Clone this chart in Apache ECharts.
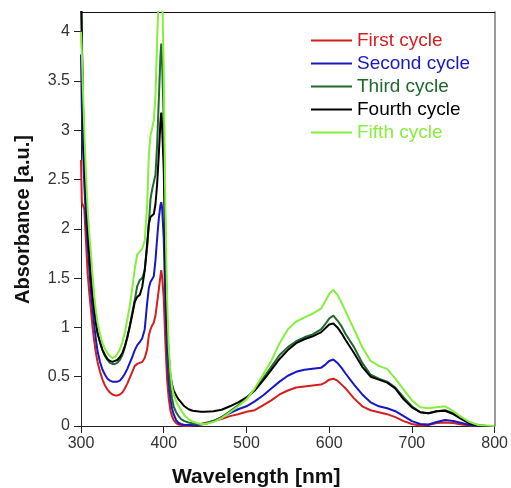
<!DOCTYPE html>
<html>
<head>
<meta charset="utf-8">
<script src="https://cdn.jsdelivr.net/npm/echarts@6/dist/echarts.min.js"></script>
<style>
  html, body { margin: 0; padding: 0; background: #fff; }
  #chart { width: 511px; height: 488px; }
</style>
</head>
<body>
<div id="chart"></div>
<script>
// Absorption spectra recorded over five successive cycles
const wavelengths = [
  300, 301, 302, 304, 306, 308, 310, 312, 314, 316, 318, 320, 323, 326, 329, 332, 335, 338, 341, 344,
  347, 350, 353, 356, 359, 362, 365, 368, 371, 374, 377, 380, 382, 384, 386, 388, 390, 392, 394, 396,
  397, 398, 400, 402, 404, 406, 408, 410, 412, 415, 418, 421, 425, 430, 435, 440, 445, 450, 460, 470,
  480, 490, 500, 510, 520, 530, 540, 550, 560, 570, 580, 590, 595, 600, 605, 610, 615, 620, 630, 640,
  650, 660, 670, 680, 690, 700, 710, 720, 730, 740, 750, 760, 770, 780, 790, 800
];

const firstCycle = [
  2.70, 2.27, 2.25, 2.20, 1.88, 1.55, 1.35, 1.18, 1.00, 0.86, 0.74, 0.65, 0.55, 0.47, 0.41, 0.37, 0.34, 0.32, 0.31, 0.31,
  0.32, 0.34, 0.38, 0.43, 0.49, 0.55, 0.61, 0.63, 0.64, 0.65, 0.69, 0.78, 0.92, 0.98, 1.02, 1.05, 1.12, 1.25, 1.38, 1.52,
  1.58, 1.52, 1.30, 0.85, 0.48, 0.28, 0.16, 0.10, 0.06, 0.03, 0.015, 0.01, 0.0, 0.0, 0.005, 0.01, 0.02, 0.03, 0.05, 0.07,
  0.10, 0.12, 0.145, 0.16, 0.21, 0.26, 0.32, 0.36, 0.39, 0.40, 0.41, 0.42, 0.44, 0.47, 0.48, 0.46, 0.42, 0.38, 0.28, 0.20,
  0.16, 0.14, 0.12, 0.09, 0.05, 0.02, 0.005, 0.01, 0.03, 0.035, 0.03, 0.015, 0.005, 0, 0, 0
];

const secondCycle = [
  3.77, 3.24, 2.90, 2.45, 2.10, 1.85, 1.60, 1.36, 1.18, 1.02, 0.88, 0.76, 0.65, 0.57, 0.52, 0.48, 0.46, 0.45, 0.45, 0.45,
  0.46, 0.49, 0.53, 0.58, 0.64, 0.70, 0.77, 0.82, 0.85, 0.89, 0.98, 1.25, 1.40, 1.46, 1.48, 1.52, 1.68, 1.90, 2.10, 2.24,
  2.27, 2.22, 1.90, 1.25, 0.75, 0.45, 0.28, 0.18, 0.12, 0.06, 0.03, 0.02, 0.01, 0.01, 0.01, 0.01, 0.015, 0.02, 0.05, 0.09,
  0.13, 0.17, 0.20, 0.25, 0.31, 0.38, 0.45, 0.51, 0.55, 0.57, 0.58, 0.59, 0.62, 0.66, 0.675, 0.64, 0.59, 0.53, 0.42, 0.32,
  0.24, 0.20, 0.18, 0.15, 0.10, 0.05, 0.02, 0.015, 0.04, 0.06, 0.05, 0.03, 0.01, 0, 0, 0
];

const thirdCycle = [
  4.50, 4.00, 3.40, 2.72, 2.38, 2.05, 1.78, 1.53, 1.33, 1.18, 1.05, 0.95, 0.85, 0.77, 0.71, 0.67, 0.64, 0.63, 0.63, 0.64,
  0.67, 0.72, 0.80, 0.90, 1.02, 1.15, 1.28, 1.42, 1.48, 1.50, 1.58, 1.82, 2.05, 2.30, 2.40, 2.42, 2.55, 2.85, 3.30, 3.75,
  3.88, 3.70, 3.10, 1.90, 1.05, 0.62, 0.40, 0.28, 0.20, 0.14, 0.10, 0.07, 0.05, 0.035, 0.025, 0.02, 0.02, 0.025, 0.05, 0.09,
  0.15, 0.21, 0.28, 0.37, 0.48, 0.60, 0.72, 0.80, 0.86, 0.90, 0.93, 0.98, 1.03, 1.09, 1.12, 1.07, 1.01, 0.93, 0.80, 0.64,
  0.52, 0.48, 0.45, 0.39, 0.29, 0.20, 0.14, 0.13, 0.15, 0.16, 0.13, 0.08, 0.03, 0.01, 0, 0
];

const fourthCycle = [
  4.50, 3.90, 3.35, 2.69, 2.35, 2.02, 1.75, 1.51, 1.32, 1.18, 1.05, 0.94, 0.85, 0.77, 0.72, 0.68, 0.66, 0.65, 0.66, 0.67,
  0.70, 0.74, 0.81, 0.90, 1.01, 1.13, 1.26, 1.31, 1.33, 1.41, 1.58, 1.85, 2.05, 2.12, 2.13, 2.15, 2.25, 2.45, 2.75, 3.08,
  3.18, 3.05, 2.60, 1.70, 1.05, 0.72, 0.52, 0.42, 0.36, 0.31, 0.27, 0.24, 0.20, 0.17, 0.155, 0.15, 0.145, 0.145, 0.15, 0.165,
  0.20, 0.24, 0.29, 0.36, 0.46, 0.57, 0.68, 0.77, 0.84, 0.88, 0.91, 0.95, 0.99, 1.03, 1.04, 1.00, 0.94, 0.87, 0.74, 0.60,
  0.50, 0.47, 0.44, 0.38, 0.27, 0.19, 0.14, 0.13, 0.15, 0.155, 0.12, 0.07, 0.025, 0.005, 0, 0
];

const fifthCycle = [
  4.00, 3.80, 3.50, 3.00, 2.55, 2.20, 1.95, 1.75, 1.52, 1.32, 1.17, 1.05, 0.93, 0.84, 0.78, 0.74, 0.71, 0.69, 0.70, 0.73,
  0.78, 0.85, 0.95, 1.08, 1.22, 1.40, 1.60, 1.74, 1.77, 1.80, 1.88, 2.25, 2.75, 2.95, 3.02, 3.10, 3.35, 3.90, 4.40, 4.60,
  4.60, 4.50, 3.60, 2.20, 1.30, 0.80, 0.55, 0.40, 0.32, 0.25, 0.20, 0.16, 0.11, 0.07, 0.045, 0.03, 0.02, 0.02, 0.04, 0.08,
  0.14, 0.20, 0.27, 0.38, 0.52, 0.66, 0.84, 0.98, 1.06, 1.10, 1.14, 1.19, 1.26, 1.34, 1.38, 1.33, 1.25, 1.16, 0.98, 0.80,
  0.66, 0.61, 0.58, 0.48, 0.37, 0.26, 0.19, 0.18, 0.19, 0.20, 0.15, 0.09, 0.04, 0.01, 0.005, 0
];

const seriesNames = ['First cycle', 'Second cycle', 'Third cycle', 'Fourth cycle', 'Fifth cycle'];
const seriesValues = [firstCycle, secondCycle, thirdCycle, fourthCycle, fifthCycle];
const seriesColors = ['#d41f1f', '#1717c4', '#1f6a2a', '#000000', '#86ee3c'];

const xTicks = { min: 300, max: 800, step: 100 };
const yTicks = { min: 0, max: 4.2, step: 0.5 };

const FONT = '"Liberation Sans", Arial, sans-serif';

const chart = echarts.init(document.getElementById('chart'), null, { renderer: 'canvas' });

const series = seriesNames.map((name, i) => ({
  name,
  type: 'line',
  xAxisIndex: 0,
  yAxisIndex: 0,
  data: wavelengths.map((w, k) => [w, seriesValues[i][k]]),
  showSymbol: false,
  symbol: 'none',
  clip: true,
  lineStyle: { color: seriesColors[i], width: 2 },
  itemStyle: { color: seriesColors[i] },
  animation: false,
  z: 2 + i
}));

chart.setOption({
  backgroundColor: '#ffffff',
  animation: false,
  grid: { left: 81, right: 15, top: 12, bottom: 62, containLabel: false },
  legend: {
    orient: 'vertical',
    left: 311,
    top: 31,
    padding: 0,
    itemWidth: 41,
    itemHeight: 2,
    itemGap: 4,
    icon: 'rect',
    textStyle: { fontFamily: FONT, fontSize: 19, padding: [0, 0, 0, 0] },
    data: seriesNames.map((n, i) => ({ name: n, textStyle: { color: seriesColors[i] } })),
    selectedMode: false
  },
  xAxis: [
    {
      type: 'value',
      position: 'bottom',
      min: xTicks.min,
      max: xTicks.max,
      interval: xTicks.step,
      axisLine: { show: true, lineStyle: { color: '#222', width: 1 } },
      axisTick: { show: true, inside: false, length: 7, lineStyle: { color: '#222' } },
      axisLabel: { color: '#333', fontFamily: FONT, fontSize: 16, margin: 10 },
      splitLine: { show: false }
    },
    {
      type: 'value',
      position: 'top',
      min: xTicks.min,
      max: xTicks.max,
      axisLine: { show: true, onZero: false, lineStyle: { color: '#111', width: 1 } },
      axisTick: { show: false },
      axisLabel: { show: false },
      splitLine: { show: false }
    }
  ],
  yAxis: [
    {
      type: 'value',
      position: 'left',
      min: yTicks.min,
      max: yTicks.max,
      interval: yTicks.step,
      axisLine: { show: true, onZero: false, lineStyle: { color: '#222', width: 1 } },
      axisTick: { show: true, inside: false, length: 7, lineStyle: { color: '#222' } },
      axisLabel: { color: '#333', fontFamily: FONT, fontSize: 16, margin: 11, showMaxLabel: false },
      splitLine: { show: false }
    },
    {
      type: 'value',
      position: 'right',
      min: yTicks.min,
      max: yTicks.max,
      axisLine: { show: true, onZero: false, lineStyle: { color: '#7a7a7a', width: 1.5 } },
      axisTick: { show: false },
      axisLabel: { show: false },
      splitLine: { show: false }
    }
  ],
  graphic: [
    {
      type: 'text',
      left: 172,
      top: 467,
      style: { text: 'Wavelength [nm]', font: 'bold 21px ' + FONT, fill: '#111' }
    },
    {
      type: 'text',
      x: 13,
      y: 304,
      rotation: Math.PI / 2,
      style: { text: 'Absorbance [a.u.]', font: 'bold 20px ' + FONT, fill: '#111' }
    }
  ],
  series
});
</script>
</body>
</html>
